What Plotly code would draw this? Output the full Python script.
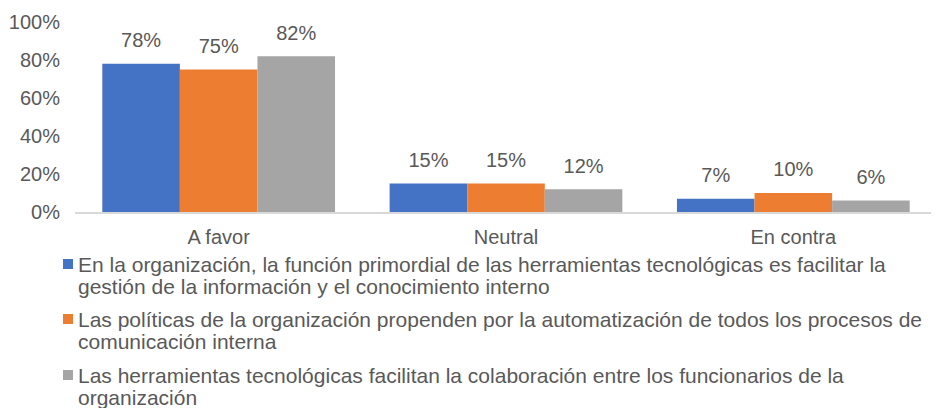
import plotly.graph_objects as go

categories = ["A favor", "Neutral", "En contra"]

series_lines = [
    ["En la organización, la función primordial de las herramientas tecnológicas es facilitar la",
     "gestión de la información y el conocimiento interno"],
    ["Las políticas de la organización propenden por la automatización de todos los procesos de",
     "comunicación interna"],
    ["Las herramientas tecnológicas facilitan la colaboración entre los funcionarios de la",
     "organización"],
]
funcion_primordial = [0.78, 0.15, 0.07]
politicas = [0.75, 0.15, 0.10]
colaboracion = [0.82, 0.12, 0.06]

colors = ["#4472C4", "#ED7D31", "#A5A5A5"]
text_color = "#595959"
font_family = "Liberation Sans, Arial, sans-serif"

# the page body adds an 8px margin, so the figure coordinates are shifted by that
W, H = 939, 408
OFF = 8
L, T = 75 - OFF, 22 - OFF
R = W - (937 - OFF)
B = H - (212 - OFF)

fig = go.Figure()
for i, vals in enumerate([funcion_primordial, politicas, colaboracion]):
    name = " ".join(series_lines[i])
    fig.add_trace(go.Bar(
        x=categories, y=vals, name=name, offsetgroup=str(i),
        marker=dict(color=colors[i], line=dict(width=0)),
        showlegend=False, hoverinfo="x+y",
    ))
    # value labels, lifted above the bars like the original (invisible marker pushes text up)
    fig.add_trace(go.Scatter(
        x=categories, y=vals, offsetgroup=str(i), mode="markers+text",
        texttemplate="%{y:.0%}", textposition="top center",
        textfont=dict(size=20, color=text_color),
        marker=dict(size=17, color="rgba(0,0,0,0)"), cliponaxis=False,
        showlegend=False, hoverinfo="skip",
    ))

# legend drawn by hand so the wrapped lines keep the tight spacing of the original
def px_x(px):
    return (px - OFF - L) / (W - L - R)

def px_y(py):
    return (H - B - (py - OFF)) / (H - T - B)

legend_top = [264, 319, 375]
line_step = 22.5
for i, lines in enumerate(series_lines):
    y0 = legend_top[i]
    fig.add_shape(type="rect", xref="paper", yref="paper",
                  x0=px_x(63), x1=px_x(73), y0=px_y(y0 - 5), y1=px_y(y0 + 5),
                  fillcolor=colors[i], line=dict(width=0))
    for j, line in enumerate(lines):
        fig.add_annotation(xref="paper", yref="paper", x=px_x(76), y=px_y(y0 + j * line_step),
                           xanchor="left", yanchor="middle", text=line, showarrow=False,
                           font=dict(size=21, color=text_color))

fig.update_layout(
    width=W, height=H,
    margin=dict(l=L, r=R, t=T, b=B, autoexpand=False),
    paper_bgcolor="white", plot_bgcolor="white",
    font=dict(family=font_family, size=20, color=text_color),
    barmode="group", bargap=0.19, bargroupgap=0,
    scattermode="group", scattergap=0.19,
    showlegend=False,
    xaxis=dict(
        showline=True, linecolor="#D9D9D9", linewidth=1.5,
        ticks="", showgrid=False, tickfont=dict(size=20, color=text_color),
        tickangle=0, ticklabelstandoff=6,
    ),
    yaxis=dict(
        range=[0, 1], tickvals=[0, 0.2, 0.4, 0.6, 0.8, 1.0], tickformat=".0%",
        showgrid=False, zeroline=False, showline=False,
        tickfont=dict(size=20, color=text_color), ticklabelstandoff=14,
    ),
)

fig.write_html("out.html")
